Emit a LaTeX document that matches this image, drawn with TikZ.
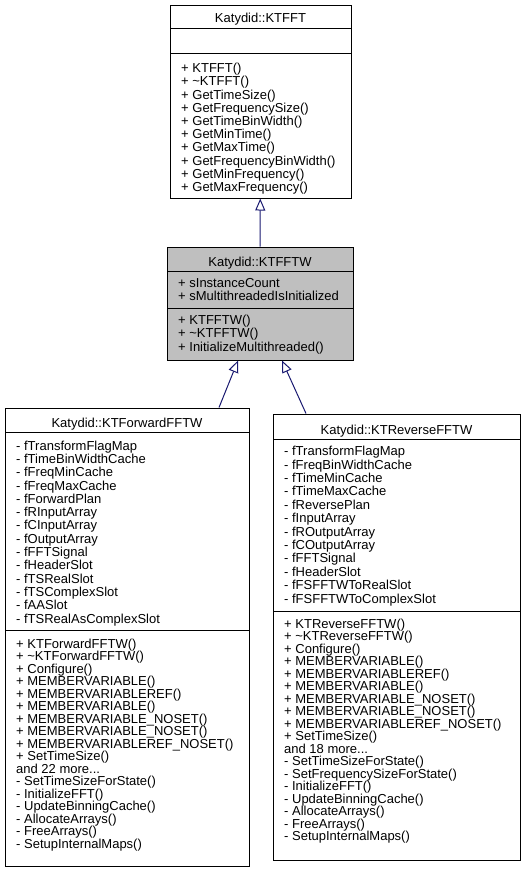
\documentclass[tikz,border=0pt]{standalone}
\usepackage{fontspec}
\setmainfont{Liberation Sans}
\usetikzlibrary{arrows.meta}
\definecolor{edgeblue}{HTML}{191970}
\definecolor{classgray}{HTML}{BFBFBF}

\begin{document}
\begin{tikzpicture}[
    x=1pt, y=-1pt,
    classbox/.style={rectangle, draw, line width=1pt, inner sep=0pt},
    title/.style={anchor=base, inner sep=0pt, font=\fontsize{13}{13}\selectfont},
    members/.style={anchor=north west, inner sep=0pt, align=left},
    inherit/.style={-{Triangle[open, length=12pt, width=10pt]}, draw=edgeblue, line width=1pt}
]
\useasboundingbox (0,0) rectangle (523,873);

% Classe de base
\node[classbox, minimum width=181pt, minimum height=193pt] (fft) at (260.5, 101.5) {};
\draw[line width=1pt] (170, 28) -- (351, 28);
\draw[line width=1pt] (170, 53) -- (351, 53);
\node[title] (fft-title) at (260.5, 22.5) {Katydid::KTFFT};
\node[members, font=\fontsize{13}{13.2}\selectfont] (fft-ops) at (181, 63) {+ KTFFT()\\+ \textasciitilde KTFFT()\\+ GetTimeSize()\\+ GetFrequencySize()\\+ GetTimeBinWidth()\\+ GetMinTime()\\+ GetMaxTime()\\+ GetFrequencyBinWidth()\\+ GetMinFrequency()\\+ GetMaxFrequency()};

% Classe FFTW
\node[classbox, fill=classgray, minimum width=186pt, minimum height=113pt] (fftw) at (260, 303.5) {};
\draw[line width=1pt] (167, 271) -- (353, 271);
\draw[line width=1pt] (167, 308) -- (353, 308);
\node[title] (fftw-title) at (260, 266) {Katydid::KTFFTW};
\node[members, font=\fontsize{13}{13.3}\selectfont] (fftw-attr) at (178, 278) {+ sInstanceCount\\+ sMultithreadedIsInitialized};
\node[members, font=\fontsize{13}{13.3}\selectfont] (fftw-ops) at (178, 315) {+ KTFFTW()\\+ \textasciitilde KTFFTW()\\+ InitializeMultithreaded()};

% Classe Forward
\node[classbox, minimum width=244pt, minimum height=458pt] (fwd) at (127, 637) {};
\draw[line width=1pt] (5, 432) -- (249, 432);
\draw[line width=1pt] (5, 630) -- (249, 630);
\node[title] (fwd-title) at (127, 427) {Katydid::KTForwardFFTW};
\node[members, font=\fontsize{13}{13.3}\selectfont] (fwd-attr) at (16, 440.5) {- fTransformFlagMap\\- fTimeBinWidthCache\\- fFreqMinCache\\- fFreqMaxCache\\- fForwardPlan\\- fRInputArray\\- fCInputArray\\- fOutputArray\\- fFFTSignal\\- fHeaderSlot\\- fTSRealSlot\\- fTSComplexSlot\\- fAASlot\\- fTSRealAsComplexSlot};
\node[members, font=\fontsize{13}{12.5}\selectfont] (fwd-ops) at (16, 638.5) {+ KTForwardFFTW()\\+ \textasciitilde KTForwardFFTW()\\+ Configure()\\+ MEMBERVARIABLE()\\+ MEMBERVARIABLEREF()\\+ MEMBERVARIABLE()\\+ MEMBERVARIABLE\_NOSET()\\+ MEMBERVARIABLE\_NOSET()\\+ MEMBERVARIABLEREF\_NOSET()\\+ SetTimeSize()\\and 22 more...\\- SetTimeSizeForState()\\- InitializeFFT()\\- UpdateBinningCache()\\- AllocateArrays()\\- FreeArrays()\\- SetupInternalMaps()};

% Classe Reverse
\node[classbox, minimum width=247pt, minimum height=446pt] (rev) at (396.5, 637) {};
\draw[line width=1pt] (273, 439) -- (520, 439);
\draw[line width=1pt] (273, 611) -- (520, 611);
\node[title] (rev-title) at (396.5, 434) {Katydid::KTReverseFFTW};
\node[members, font=\fontsize{13}{13.4}\selectfont] (rev-attr) at (284, 446) {- fTransformFlagMap\\- fFreqBinWidthCache\\- fTimeMinCache\\- fTimeMaxCache\\- fReversePlan\\- fInputArray\\- fROutputArray\\- fCOutputArray\\- fFFTSignal\\- fHeaderSlot\\- fFSFFTWToRealSlot\\- fFSFFTWToComplexSlot};
\node[members, font=\fontsize{13}{12.5}\selectfont] (rev-ops) at (284, 618.5) {+ KTReverseFFTW()\\+ \textasciitilde KTReverseFFTW()\\+ Configure()\\+ MEMBERVARIABLE()\\+ MEMBERVARIABLEREF()\\+ MEMBERVARIABLE()\\+ MEMBERVARIABLE\_NOSET()\\+ MEMBERVARIABLE\_NOSET()\\+ MEMBERVARIABLEREF\_NOSET()\\+ SetTimeSize()\\and 18 more...\\- SetTimeSizeForState()\\- SetFrequencySizeForState()\\- InitializeFFT()\\- UpdateBinningCache()\\- AllocateArrays()\\- FreeArrays()\\- SetupInternalMaps()};

% Connexions
\draw[inherit] (fftw) -- (fft);
\draw[inherit] ([xshift=92pt]fwd.north) -- ([xshift=-22pt]fftw.south);
\draw[inherit] ([xshift=-90.5pt]rev.north) -- ([xshift=22pt]fftw.south);

\end{tikzpicture}
\end{document}
